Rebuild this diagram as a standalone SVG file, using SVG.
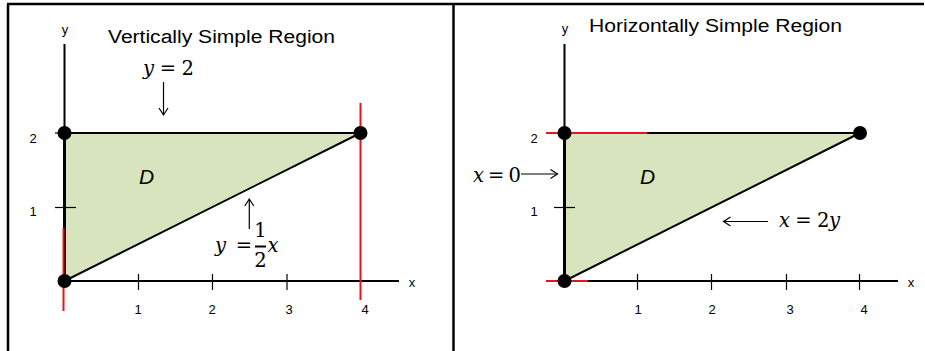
<svg xmlns="http://www.w3.org/2000/svg" width="925" height="351" viewBox="0 0 925 351">
<style>
.frame{stroke:#000;stroke-width:2.5;fill:none}
.axis{stroke:#000;stroke-width:2;fill:none}
.tick{stroke:#000;stroke-width:1.2;fill:none}
.edge{stroke:#000;stroke-width:2;fill:none}
.edgeb{stroke:#000;stroke-width:3;fill:none}
.red{stroke:#e8141c;stroke-width:2;fill:none}
.region{fill:#d7e4bd;stroke:none}
.dot{fill:#000}
.lab{font-family:"Liberation Sans",Arial,sans-serif;font-size:13px;fill:#000}
.title{font-family:"Liberation Sans",Arial,sans-serif;font-size:18px;fill:#000}
.math{font-family:"DejaVu Serif","Liberation Serif",serif;font-size:19.5px;fill:#000}
.it{font-style:italic}
.D{font-family:"Liberation Sans",Arial,sans-serif;font-size:21px;font-style:italic;fill:#000}
.arr{stroke:#000;stroke-width:1.2;fill:none;marker-end:url(#open)}
</style>
<defs>
<marker id="open" markerUnits="userSpaceOnUse" markerWidth="12" markerHeight="12" viewBox="-8 -6 10 12" refX="0" refY="0" orient="auto">
<path d="M-7,-4.5 L0,0 L-7,4.5" stroke="#000" stroke-width="1.2" fill="none"/>
</marker>
</defs>
<rect width="925" height="351" fill="#fff"/>
<g id="frame">
<line class="frame" x1="7" y1="4" x2="924" y2="4"/>
<line class="frame" x1="8" y1="4" x2="8" y2="351"/>
<line class="frame" x1="453.5" y1="4" x2="453.5" y2="351"/>
</g>

<g id="left-panel">
<g id="left-region">
<polygon class="region" points="64.5,133 360.5,133 64.5,281"/>
<line class="edge" x1="64.5" y1="133" x2="360.5" y2="133"/>
<line class="edge" x1="64.5" y1="281" x2="360.5" y2="133"/>
<line class="edgeb" x1="64.5" y1="133" x2="64.5" y2="281"/>
</g>
<g id="left-axes">
<line class="axis" x1="64.5" y1="44" x2="64.5" y2="281"/>
<line class="axis" x1="64.5" y1="281" x2="399" y2="281"/>
<line class="tick" x1="138.5" y1="274" x2="138.5" y2="290"/>
<line class="tick" x1="212.5" y1="274" x2="212.5" y2="290"/>
<line class="tick" x1="287" y1="274" x2="287" y2="290"/>
<line class="tick" x1="55" y1="207.5" x2="76" y2="207.5"/>
<line class="tick" x1="55" y1="133" x2="64" y2="133"/>
<text class="lab" x="65" y="34" text-anchor="middle">y</text>
<text class="lab" x="412" y="287" text-anchor="middle">x</text>
<text class="lab" x="33" y="143" text-anchor="middle">2</text>
<text class="lab" x="33" y="216" text-anchor="middle">1</text>
<text class="lab" x="138" y="314" text-anchor="middle">1</text>
<text class="lab" x="212" y="314" text-anchor="middle">2</text>
<text class="lab" x="289" y="314" text-anchor="middle">3</text>
<text class="lab" x="365" y="314" text-anchor="middle">4</text>
</g>
<g id="left-red">
<line class="red" x1="360.5" y1="103" x2="360.5" y2="300"/>
<line class="red" x1="63.5" y1="228" x2="63.5" y2="311"/>
</g>
<g id="left-points">
<circle class="dot" cx="64.5" cy="133" r="7"/>
<circle class="dot" cx="360.5" cy="133" r="7"/>
<circle class="dot" cx="64.5" cy="281" r="7"/>
</g>
<g id="left-labels">
<text class="title" x="108" y="42.5" textLength="227" lengthAdjust="spacingAndGlyphs">Vertically Simple Region</text>
<text class="D" x="139" y="184">D</text>
<text class="math" x="143" y="75" textLength="51" lengthAdjust="spacing"><tspan class="it">y</tspan> = 2</text>
<text class="math" x="215" y="252" textLength="37" lengthAdjust="spacing"><tspan class="it">y</tspan> =</text>
<text class="math" x="260.5" y="237" text-anchor="middle">1</text>
<line x1="255" y1="246.5" x2="266" y2="246.5" stroke="#000" stroke-width="2"/>
<text class="math" x="260.5" y="267" text-anchor="middle">2</text>
<text class="math it" x="267.5" y="252">x</text>
</g>
</g>

<g id="right-panel">
<g id="right-region">
<polygon class="region" points="564.5,133 860,133 564.5,281"/>
<line class="edge" x1="564.5" y1="133" x2="860" y2="133"/>
<line class="edge" x1="564.5" y1="281" x2="860" y2="133"/>
<line class="edgeb" x1="564.5" y1="133" x2="564.5" y2="281"/>
</g>
<g id="right-axes">
<line class="axis" x1="564.5" y1="44" x2="564.5" y2="281"/>
<line class="axis" x1="564.5" y1="281" x2="898" y2="281"/>
<line class="tick" x1="637.5" y1="274" x2="637.5" y2="290"/>
<line class="tick" x1="711.5" y1="274" x2="711.5" y2="290"/>
<line class="tick" x1="786.5" y1="274" x2="786.5" y2="290"/>
<line class="tick" x1="859.5" y1="274" x2="859.5" y2="290"/>
<line class="tick" x1="554" y1="207.5" x2="575" y2="207.5"/>
<text class="lab" x="565" y="33" text-anchor="middle">y</text>
<text class="lab" x="911" y="287" text-anchor="middle">x</text>
<text class="lab" x="534" y="143" text-anchor="middle">2</text>
<text class="lab" x="534" y="216" text-anchor="middle">1</text>
<text class="lab" x="638" y="314" text-anchor="middle">1</text>
<text class="lab" x="712" y="314" text-anchor="middle">2</text>
<text class="lab" x="790" y="314" text-anchor="middle">3</text>
<text class="lab" x="864" y="314" text-anchor="middle">4</text>
</g>
<g id="right-red">
<line class="red" x1="546" y1="133" x2="647" y2="133"/>
<line class="red" x1="546" y1="281" x2="588" y2="281"/>
</g>
<g id="right-points">
<circle class="dot" cx="564.5" cy="133" r="7"/>
<circle class="dot" cx="860" cy="133" r="7"/>
<circle class="dot" cx="564.5" cy="281" r="7"/>
</g>
<g id="right-labels">
<text class="title" x="589" y="32" textLength="253" lengthAdjust="spacingAndGlyphs">Horizontally Simple Region</text>
<text class="D" x="640" y="184">D</text>
<text class="math" x="473" y="182" textLength="48" lengthAdjust="spacing"><tspan class="it">x</tspan> = 0</text>
<text class="math" x="779" y="227" textLength="61" lengthAdjust="spacing"><tspan class="it">x</tspan> = 2<tspan class="it">y</tspan></text>
</g>
</g>

<g id="connectors">
<line class="arr" x1="163.5" y1="82" x2="163.5" y2="115"/>
<line class="arr" x1="249.3" y1="229" x2="249.3" y2="199"/>
<line class="arr" x1="521" y1="174" x2="557.5" y2="174"/>
<line class="arr" x1="768" y1="221.5" x2="723.5" y2="221.5"/>
</g>
</svg>
